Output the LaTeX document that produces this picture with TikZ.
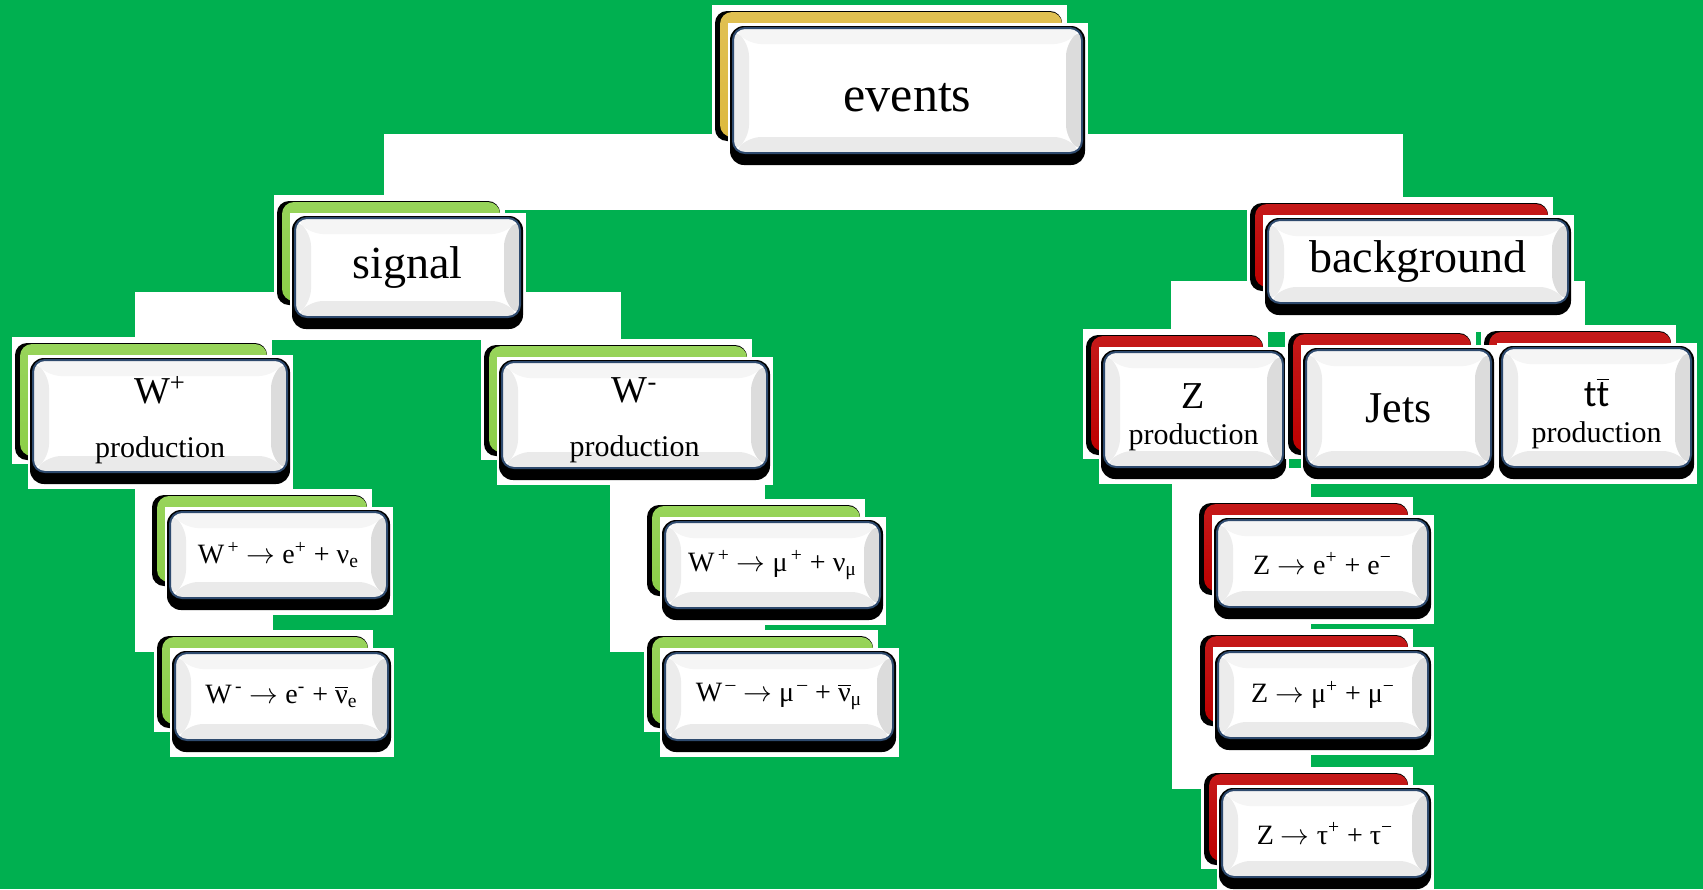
\documentclass[tikz,border=0pt]{standalone}
\usepackage{fontspec}
\setmainfont{Liberation Serif}
\newfontfamily\calibri{Carlito}
\usetikzlibrary{calc,backgrounds}

\definecolor{field}{HTML}{00B050}
\definecolor{cardgold}{HTML}{DDB93F}
\definecolor{cardgreen}{HTML}{8CCF48}
\definecolor{cardred}{HTML}{BE0000}
\definecolor{cardrim}{HTML}{2E4A6E}
\definecolor{bevtop}{HTML}{F5F5F5}
\definecolor{bevleft}{HTML}{ECECEC}
\definecolor{bevright}{HTML}{DCDCDC}
\definecolor{bevbottom}{HTML}{EAEAEA}

\newcommand\sz[1]{\fontsize{#1}{#1}\selectfont}
\newcommand\arr{$\rightarrow$}
\newcommand\lift[1]{\rule{0pt}{#1}}

% stacked card: name, centre x, centre y, width, height, back colour, text
\newcommand\card[7]{%
  \fill[white] ({#2-#4/2-21},{#3-#5/2-23}) rectangle ({#2+#4/2-15},{#3+#5/2-8});
  \fill[black,rounded corners=6pt] ({#2-#4/2-18},{#3-#5/2-17}) rectangle ({#2+#4/2-20},{#3+#5/2-12});
  \fill[rounded corners=6pt,top color=#6!90!white,bottom color=#6]
    ({#2-#4/2-13},{#3-#5/2-16}) rectangle ({#2+#4/2-20},{#3+#5/2-16});
  \fill[white] ({#2-#4/2-5},{#3-#5/2-5}) rectangle ({#2+#4/2+6},{#3+#5/2+17});
  \fill[black,rounded corners=7pt] ({#2-#4/2-3},{#3-#5/2-2}) rectangle ({#2+#4/2+3},{#3+#5/2+12});
  \node[card,minimum width=#4*0.5pt,minimum height=#5*0.5pt] (#1) at (#2,#3) {#7};
}

\begin{document}
\begin{tikzpicture}[x=0.5pt, y=-0.5pt,
    link/.style={draw=white, line width=#1},
    card/.style={rectangle, rounded corners=6pt, fill=white, draw=cardrim, line width=1pt,
      inner sep=0pt, align=center,
      path picture={
        \fill[bevtop] (path picture bounding box.north west) -- (path picture bounding box.north east)
          -- ([shift={(-8pt,-8pt)}]path picture bounding box.north east)
          -- ([shift={(8pt,-8pt)}]path picture bounding box.north west) -- cycle;
        \fill[bevleft] (path picture bounding box.north west) -- (path picture bounding box.south west)
          -- ([shift={(8pt,8pt)}]path picture bounding box.south west)
          -- ([shift={(8pt,-8pt)}]path picture bounding box.north west) -- cycle;
        \fill[bevright] (path picture bounding box.north east) -- (path picture bounding box.south east)
          -- ([shift={(-8pt,8pt)}]path picture bounding box.south east)
          -- ([shift={(-8pt,-8pt)}]path picture bounding box.north east) -- cycle;
        \fill[bevbottom] (path picture bounding box.south west) -- (path picture bounding box.south east)
          -- ([shift={(-8pt,8pt)}]path picture bounding box.south east)
          -- ([shift={(8pt,8pt)}]path picture bounding box.south west) -- cycle;
      }}]
  \useasboundingbox (0,0) rectangle (1703,889);

  \card{events}{907.5}{90.5}{349}{125}{cardgold}{\sz{25}\lift{21pt}events}
  \card{signal}{407.5}{267.5}{225}{99}{cardgreen}{\sz{23}signal}
  \card{background}{1418}{261.5}{300}{83}{cardred}{\sz{23}background}

  \card{wplus}{160}{416}{254}{112}{cardgreen}{\sz{19}\lift{18pt}W\textsuperscript{+}\\[15pt]\sz{15}production}
  \card{wminus}{634.5}{415}{265}{106}{cardgreen}{\sz{19}\lift{18pt}W\textsuperscript{-}\\[15pt]\sz{15}production}
  \card{zprod}{1193.5}{409.5}{179}{115}{cardred}{\sz{19}\lift{20pt}Z\\[6pt]\sz{15}production}
  \card{ttbar}{1596.5}{407.5}{189}{119}{cardred}{\calibri\sz{19}\lift{20pt}t$\overline{\mbox{t}}$\\[6pt]\sz{15}production}
  \card{jets}{1398.5}{408.5}{185}{117}{cardred}{\sz{22}Jets}

  \card{wpe}{278.5}{555}{217}{86}{cardgreen}{\sz{14}W\textsuperscript{\,+}~\arr~e\textsuperscript{+}~+~ν\textsubscript{e}}
  \card{wme}{281.5}{696.5}{213}{87}{cardgreen}{\sz{14}W\textsuperscript{\,-}~\arr~e\textsuperscript{-}~+~$\overline{\mbox{ν}}$\textsubscript{e}}
  \card{wpm}{772.5}{565}{215}{86}{cardgreen}{\sz{14}W\textsuperscript{\,+}~\arr~μ\textsuperscript{\,+}~+~ν\textsubscript{μ}}
  \card{wmm}{779}{696.5}{228}{87}{cardgreen}{\sz{14}W\textsuperscript{\,–}~\arr~μ\textsuperscript{\,–}~+~$\overline{\mbox{ν}}$\textsubscript{μ}}
  \card{zee}{1322.5}{563.5}{211}{87}{cardred}{\sz{14}Z~\arr~e\textsuperscript{+}~+~e\textsuperscript{−}}
  \card{zmm}{1323}{695}{210}{86}{cardred}{\sz{14}Z~\arr~μ\textsuperscript{+}~+~μ\textsuperscript{−}}
  \card{ztt}{1325}{833.5}{206}{87}{cardred}{\sz{14}Z~\arr~τ\textsuperscript{+}~+~τ\textsuperscript{−}}

  \begin{pgfonlayer}{background}
    \fill[field] (0,0) rectangle (1703,889);
    % white strips from each card down to the cards under it
    \draw[link=38pt] ($(signal.north)+(14,0)$) |- ($(events.south)+(0,18)$) -| ($(background.north)+(-53,0)$);
    \draw[link=24pt] ($(wplus.north)+(-1,0)$) |- ($(signal.south)+(0,-2)$) -| ($(wminus.north)+(-38,0)$);
    \draw[link=25.5pt] ($(zprod.north)+(3,0)$) |- ($(background.south)+(0,2)$) -| ($(ttbar.north)+(-37,0)$);
    \draw[link=25.5pt] (jets.north) |- ($(background.south)+(0,2)$);
    \draw[link=69pt] ($(wplus.south)+(44,0)$) coordinate (ehang) -- (ehang |- wme.north);
    \draw[link=77.5pt] ($(wminus.south)+(53,0)$) coordinate (muhang) -- (muhang |- wmm.north);
    \draw[link=69.5pt] ($(zprod.south)+(48,0)$) coordinate (zhang) -- (zhang |- ztt.north);
  \end{pgfonlayer}
\end{tikzpicture}
\end{document}
